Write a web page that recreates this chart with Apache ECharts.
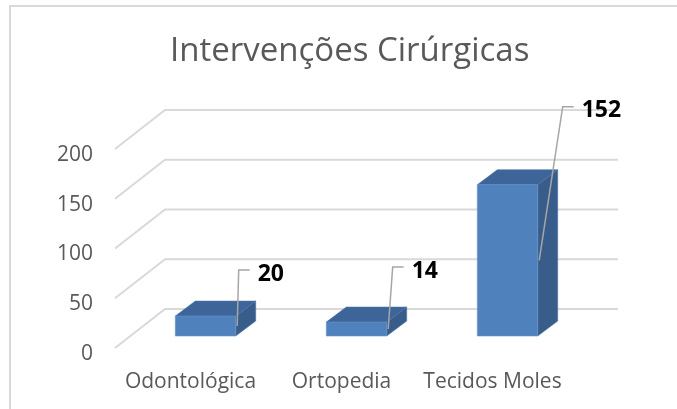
<!DOCTYPE html>
<html>
<head>
<meta charset="utf-8">
<script src="https://cdn.jsdelivr.net/npm/echarts@6/dist/echarts.min.js"></script>
<style>
  html, body { margin: 0; padding: 0; background: #fff; }
  #chart { width: 677px; height: 409px; }
</style>
</head>
<body>
<div id="chart"></div>
<script>
var categories = ['Odontológica', 'Ortopedia', 'Tecidos Moles'];
var values = [20, 14, 152];
var yTicks = [0, 50, 100, 150, 200];

// perspective offsets (px)
var WALL = [50, -39];      // front plane -> back wall
var BAR_FRONT = [15, -12]; // front plane -> bar front face
var BAR_DEPTH = [20, -15]; // bar front face -> bar back face
// where each leader line ends, relative to the top-right corner of the bar front
var LEADER_END = [[3, -46], [6, -55], [25, -78]];

var FONT = '"Open Sans", sans-serif';

var myChart = echarts.init(document.getElementById('chart'));

function renderGridLine(params, api) {
  var y = api.coord([0, api.value(1)])[1];
  var cs = params.coordSys;
  return {
    type: 'polyline',
    shape: {
      points: [
        [cs.x, y],
        [cs.x + WALL[0], y + WALL[1]],
        [cs.x + cs.width + WALL[0], y + WALL[1]]
      ]
    },
    style: { stroke: '#d9d9d9', lineWidth: 2, fill: null },
    silent: true
  };
}

function renderBar(params, api) {
  var idx = api.value(0);
  var v = api.value(1);
  var base = api.coord([idx, 0]);
  var top = api.coord([idx, v]);
  var bw = api.size([1, 0])[0] * 0.4;
  var x0 = base[0] - bw / 2 + BAR_FRONT[0];
  var x1 = base[0] + bw / 2 + BAR_FRONT[0];
  var yb = base[1] + BAR_FRONT[1];
  var yt = top[1] + BAR_FRONT[1];
  var dx = BAR_DEPTH[0], dy = BAR_DEPTH[1];
  var ym = (yt + yb) / 2;
  var end = LEADER_END[params.dataIndex];
  var ex = x1 + end[0], ey = yt + end[1];
  return {
    type: 'group',
    children: [
      {
        type: 'polygon',
        shape: { points: [[x1, yt], [x1, yb], [x1 + dx, yb + dy], [x1 + dx, yt + dy]] },
        style: { fill: '#385d8a', stroke: '#4a72a6', lineWidth: 0.6 }
      },
      {
        type: 'polygon',
        shape: { points: [[x0, yt], [x1, yt], [x1 + dx, yt + dy], [x0 + dx, yt + dy]] },
        style: { fill: '#3d6599', stroke: '#4a72a6', lineWidth: 0.6 }
      },
      {
        type: 'rect',
        shape: { x: x0, y: yt, width: x1 - x0, height: yb - yt },
        style: { fill: '#4f81bd', stroke: '#6a94c8', lineWidth: 0.6 }
      },
      {
        type: 'polyline',
        shape: { points: [[x1 + 1.5, ym], [ex, ey], [ex + 11, ey]] },
        style: { stroke: '#a6a6a6', lineWidth: 1.5, fill: null }
      },
      {
        type: 'text',
        style: {
          x: ex + 19, y: ey + 4,
          text: String(v),
          fill: '#000',
          font: 'bold 23px ' + FONT,
          align: 'left', verticalAlign: 'middle'
        }
      }
    ]
  };
}

myChart.setOption({
  animation: false,
  title: {
    text: 'Intervenções Cirúrgicas',
    left: 165,
    top: 30,
    textStyle: { fontFamily: FONT, fontSize: 33, fontWeight: 'normal', color: '#595959' }
  },
  graphic: [{
    type: 'rect',
    shape: { x: 10, y: 6, width: 720, height: 460 },
    style: { fill: null, stroke: '#d9d9d9', lineWidth: 2 },
    silent: true
  }],
  grid: { left: 115, right: 109, top: 149, bottom: 61 },
  xAxis: {
    type: 'category',
    data: categories,
    axisLine: { show: false },
    axisTick: { show: false },
    axisLabel: { interval: 0, margin: 24, fontFamily: FONT, fontSize: 21, color: '#595959' }
  },
  yAxis: {
    type: 'value',
    min: 0, max: 200, interval: 50,
    axisLine: { show: false },
    axisTick: { show: false },
    splitLine: { show: false },
    axisLabel: {
      margin: 22,
      formatter: function (v) { return '{t|' + v + '}'; },
      rich: {
        t: { padding: [12, 0, 0, 0], fontFamily: FONT, fontSize: 21, color: '#595959' }
      }
    }
  },
  series: [
    {
      type: 'custom',
      name: 'grid',
      renderItem: renderGridLine,
      data: yTicks.map(function (t) { return [0, t]; }),
      clip: false,
      z: 1,
      silent: true
    },
    {
      type: 'custom',
      name: 'Intervenções',
      renderItem: renderBar,
      data: values.map(function (v, i) { return [i, v]; }),
      clip: false,
      z: 2
    }
  ]
});
</script>
</body>
</html>
